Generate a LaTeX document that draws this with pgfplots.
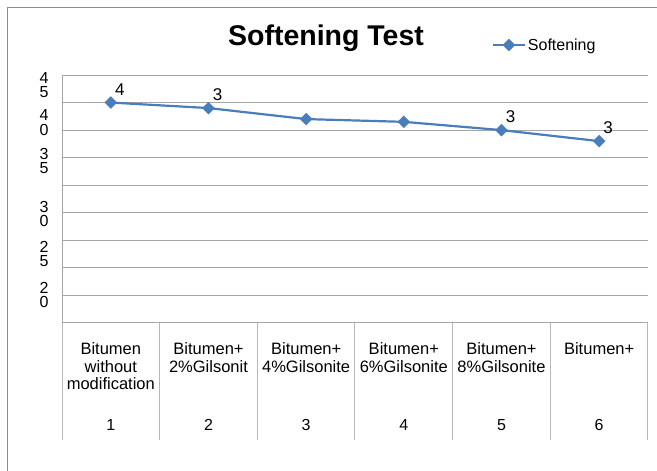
\documentclass[border=0pt]{standalone}
\usepackage{pgfplots}
\pgfplotsset{compat=1.18}
\usepackage{fontspec}
\setmainfont{Liberation Sans}
\definecolor{ser}{HTML}{4A7EBB}
\definecolor{gridc}{HTML}{A6A6A6}
\definecolor{framec}{HTML}{8C8C8C}
\definecolor{sepc}{HTML}{B8B8B8}
\begin{document}
\begin{tikzpicture}[x=1pt,y=1pt]
\path[use as bounding box] (0,0) rectangle (657,471);
\draw[framec, line width=1pt] (7,-20) -- (7,463) -- (690,463);
\node[font=\bfseries\fontsize{28.5}{28.5}\selectfont] at (326,433) {Softening Test};
\begin{axis}[
  at={(62pt,148pt)}, anchor=south west, scale only axis,
  width=586pt, height=248pt,
  xmin=0.5, xmax=6.5, ymin=0, ymax=45,
  clip=false,
  axis x line*=bottom, axis y line*=left,
  axis line style={gridc, line width=1pt, -},
  /pgf/number format/assume math mode=true,
  major tick length=0pt, minor tick length=0pt,
  xtick={1,2,3,4,5,6},
  xticklabels={{Bitumen\\without\\modification},{Bitumen+\\2\%Gilsonit},{Bitumen+\\4\%Gilsonite},{Bitumen+\\6\%Gilsonite},{Bitumen+\\8\%Gilsonite},{Bitumen+}},
  xticklabel style={align=center, anchor=north, yshift=-16.5pt, font=\fontsize{16.5}{17.5}\selectfont},
  ytick={5.08,12.52,19.78,29.40,36.38,43.19},
  yticklabels={{2\\0},{2\\5},{3\\0},{3\\5},{4\\0},{4\\5}},
  yticklabel style={align=center, anchor=center, xshift=-18pt, font=\fontsize{16}{14.5}\selectfont},
  minor ytick={0,5,...,45}, yminorgrids=true, ymajorgrids=false, xmajorgrids=false,
  minor grid style={gridc, line width=1pt},
  legend style={at={(0.733,1.121)}, anchor=west, draw=none, fill=none, inner sep=0pt,
    font=\fontsize{16}{16}\selectfont},
  legend image code/.code={\draw[mark repeat=2,mark phase=2,#1] plot coordinates {(0pt,0pt) (16pt,0pt) (32pt,0pt)};},
]
\addplot[ser, line width=2.2pt, mark=square*, mark size=4.2pt,
  mark options={rotate=45, fill=ser, draw=ser, line width=0.4pt},
  point meta=explicit symbolic, nodes near coords,
  nodes near coords style={anchor=center, xshift=9pt, yshift=13pt, text=black,
    font=\fontsize{17}{17}\selectfont}]
  coordinates {(1,40)[4] (2,39)[3] (3,37)[] (4,36.5)[] (5,35)[3] (6,33)[3]};
\addlegendentry{Softening}
\draw[sepc, line width=1pt] (axis cs:0.5,0) -- ++(0pt,-117pt);
\draw[sepc, line width=1pt] (axis cs:1.5,0) -- ++(0pt,-117pt);
\draw[sepc, line width=1pt] (axis cs:2.5,0) -- ++(0pt,-117pt);
\draw[sepc, line width=1pt] (axis cs:3.5,0) -- ++(0pt,-117pt);
\draw[sepc, line width=1pt] (axis cs:4.5,0) -- ++(0pt,-117pt);
\draw[sepc, line width=1pt] (axis cs:5.5,0) -- ++(0pt,-117pt);
\draw[sepc, line width=1pt] (axis cs:6.5,0) -- ++(0pt,-117pt);
\node[font=\fontsize{16}{16}\selectfont] at (axis cs:1,0) [yshift=-102pt] {1};
\node[font=\fontsize{16}{16}\selectfont] at (axis cs:2,0) [yshift=-102pt] {2};
\node[font=\fontsize{16}{16}\selectfont] at (axis cs:3,0) [yshift=-102pt] {3};
\node[font=\fontsize{16}{16}\selectfont] at (axis cs:4,0) [yshift=-102pt] {4};
\node[font=\fontsize{16}{16}\selectfont] at (axis cs:5,0) [yshift=-102pt] {5};
\node[font=\fontsize{16}{16}\selectfont] at (axis cs:6,0) [yshift=-102pt] {6};
\end{axis}
\end{tikzpicture}
\end{document}
